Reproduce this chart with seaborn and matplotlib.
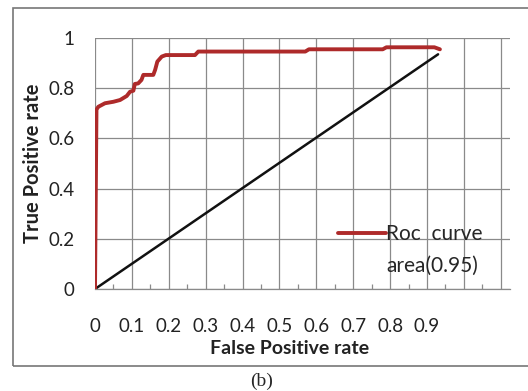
import numpy as np
import matplotlib
matplotlib.use("Agg")
import matplotlib.pyplot as plt
from matplotlib.lines import Line2D
from matplotlib.patches import Rectangle
from matplotlib.ticker import MultipleLocator
import seaborn as sns

# ROC curve
fpr = [0.0, 0.004, 0.009, 0.027, 0.05, 0.068, 0.086, 0.095, 0.104, 0.108, 0.117, 0.126,
       0.131, 0.158, 0.163, 0.169, 0.181, 0.192, 0.271, 0.28, 0.57, 0.58, 0.78,
       0.79, 0.92, 0.935]
tpr = [0.0, 0.715, 0.726, 0.740, 0.746, 0.753, 0.769, 0.786, 0.790, 0.817, 0.819, 0.833,
       0.853, 0.853, 0.873, 0.906, 0.926, 0.932, 0.932, 0.946, 0.946, 0.955, 0.955,
       0.963, 0.963, 0.955]

# reference diagonal
diag_x = [0.0, 0.93]
diag_y = [0.0, 0.935]

x_ticks = [0.0, 0.1, 0.2, 0.3, 0.4, 0.5, 0.6, 0.7, 0.8, 0.9, 1.0, 1.1]
x_labels = ["0", "0.1", "0.2", "0.3", "0.4", "0.5", "0.6", "0.7", "0.8", "0.9", "", ""]
y_ticks = [0.0, 0.2, 0.4, 0.6, 0.8, 1.0]
y_labels = ["0", "0.2", "0.4", "0.6", "0.8", "1"]

sns.set_style("white")
plt.rcParams["font.family"] = ["Lato", "DejaVu Sans"]

RED = "#AE2A2A"
GRID = "#8a8a8a"
TXT = "#222222"

fig = plt.figure(figsize=(5.28, 3.91), dpi=100)
ax = fig.add_axes([95 / 528, 1 - 289 / 391, 415 / 528, 251 / 391])

sns.lineplot(x=diag_x, y=diag_y, ax=ax, color="#111111", lw=1.8,
             sort=False, estimator=None)
sns.lineplot(x=fpr, y=tpr, ax=ax, color=RED, lw=2.8, sort=False,
             estimator=None, zorder=3)

ax.set_xlim(0, 1.125)
ax.set_ylim(0, 1.0)
ax.set_xticks(x_ticks)
ax.set_xticklabels(x_labels)
ax.set_yticks(y_ticks)
ax.set_yticklabels(y_labels)
ax.xaxis.set_minor_locator(MultipleLocator(0.05))

ax.grid(True, which="major", color=GRID, lw=0.9)
for side in ["top", "right", "left"]:
    ax.spines[side].set_visible(False)
ax.spines["bottom"].set_color(GRID)
ax.spines["bottom"].set_linewidth(0.9)

ax.tick_params(axis="x", which="major", direction="out", length=6, width=0.9,
               color=GRID, labelsize=13.5, pad=15, labelcolor=TXT)
ax.tick_params(axis="x", which="minor", direction="in", length=3.5, width=0.9,
               color=GRID, bottom=True)
ax.tick_params(axis="y", length=0, labelsize=13.5, pad=15, labelcolor=TXT)

ax.set_xlabel("False Positive rate", fontsize=14, fontweight="bold", color=TXT)
ax.set_ylabel("True Positive rate", fontsize=14.5, fontweight="bold", color=TXT)
ax.xaxis.set_label_coords(0.47, -0.205)
ax.yaxis.set_label_coords(-0.125, 0.5)

handles = [Line2D([], [], color=RED, lw=2.8), Line2D([], [], color="none")]
ax.legend(handles, ["Roc  curve", "area(0.95)"], loc="upper left",
          bbox_to_anchor=(0.5855, 0.257), frameon=False, fontsize=15,
          handlelength=2.3, handletextpad=0.0, borderpad=0, borderaxespad=0,
          labelspacing=0.55)

# outer chart frame and caption
fig.add_artist(Rectangle((13 / 528, 1 - 366 / 391), 1.0, 358 / 391,
                         transform=fig.transFigure, fill=False,
                         edgecolor="#777777", lw=1.2))
fig.text(262 / 528, 1 - 381 / 391, "(b)", ha="center", va="center",
         fontsize=14, family=["Liberation Serif", "DejaVu Serif"])

fig.savefig("out.png", dpi=100)
